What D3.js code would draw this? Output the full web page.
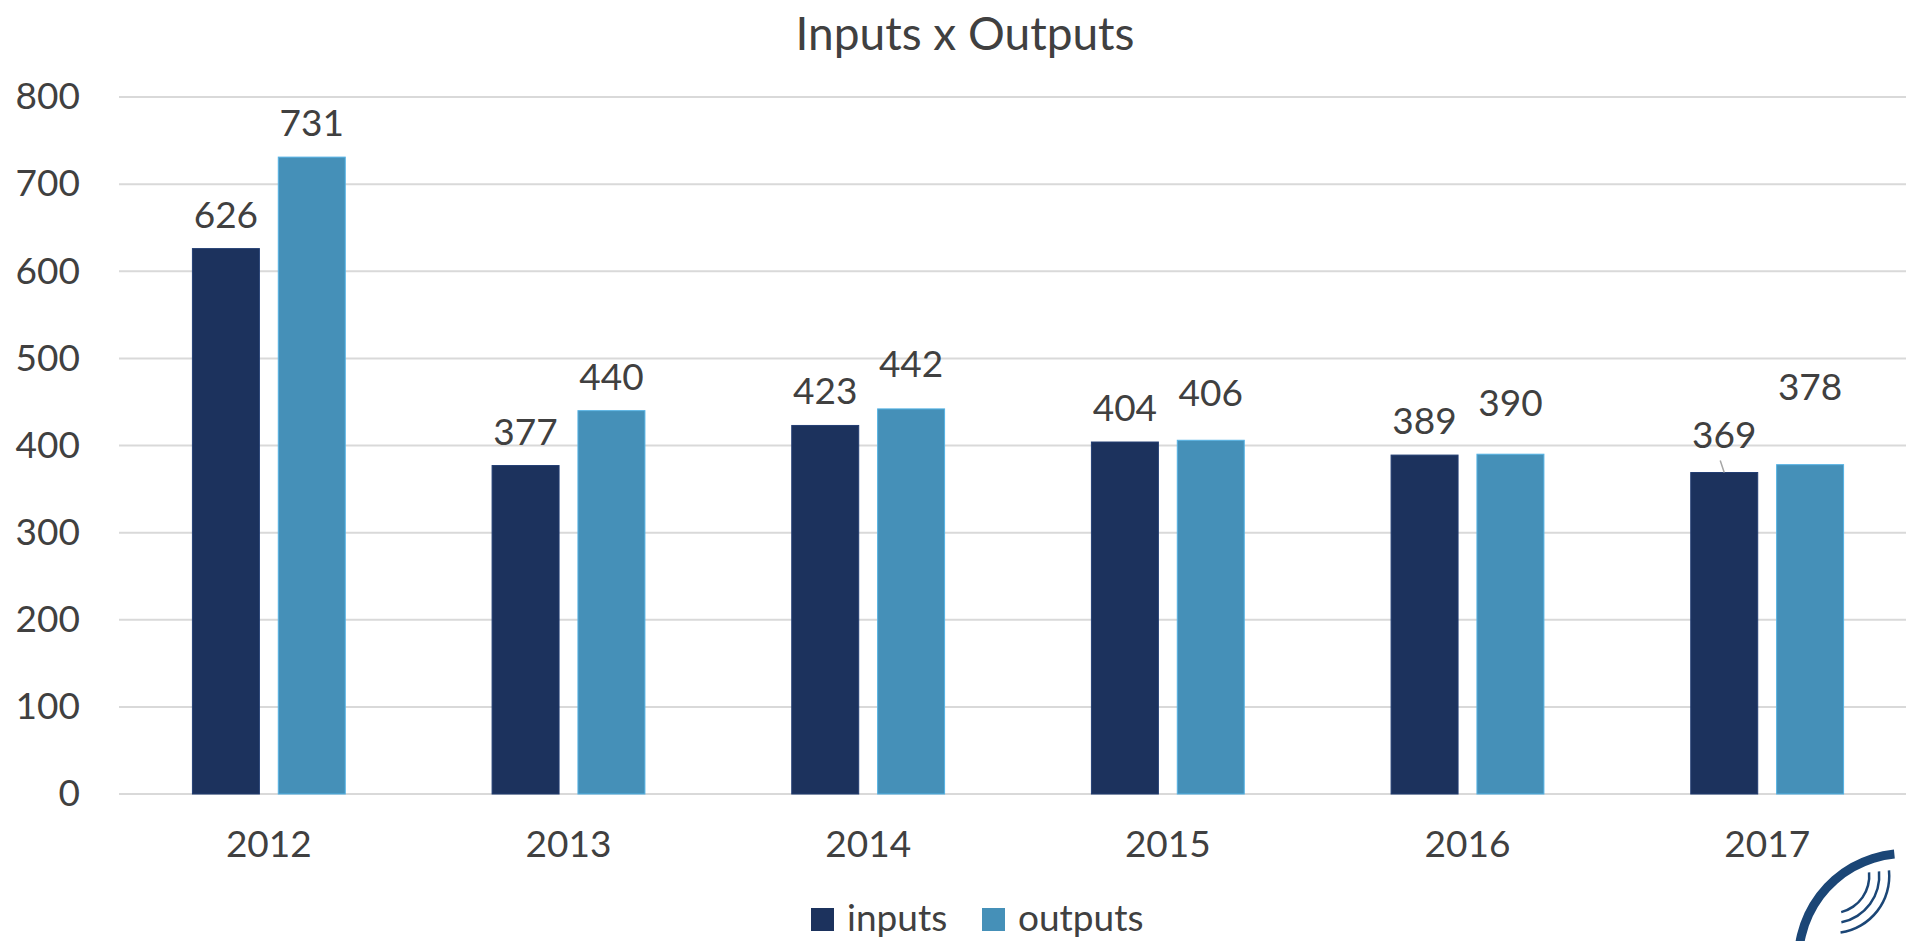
<!DOCTYPE html>
<html>
<head>
<meta charset="utf-8">
<script src="https://cdn.jsdelivr.net/npm/d3@7"></script>
<style>
  html, body { margin: 0; padding: 0; background: #fff; overflow: hidden; }
  svg { display: block; font-family: Lato, "Open Sans", sans-serif; }
</style>
</head>
<body>
<svg id="chart"></svg>
<script>
/* ---- data ---- */
const years = ['2012', '2013', '2014', '2015', '2016', '2017'];
const seriesNames = ['inputs', 'outputs'];
const inputs = [626, 377, 423, 404, 389, 369];
const outputs = [731, 440, 442, 406, 390, 378];
const yTicks = [0, 100, 200, 300, 400, 500, 600, 700, 800];
const title = 'Inputs x Outputs';

// labels that were dragged up by hand in the original
const labelLift = { inputs: [0, 0, 0, 0, 0, 4], outputs: [0, 0, 11, 13, 17, 44] };

/* ---- layout ---- */
const width = 1906, height = 941;
const plot = { left: 119, right: 1917, top: 97, bottom: 794 };
const colors = { inputs: '#1c325d', outputs: '#4590b8' };
const textColor = '#404040';

const svg = d3.select('#chart').attr('width', width).attr('height', height);

const x0 = d3.scaleBand()
  .domain(years)
  .range([plot.left, plot.right])
  .paddingInner(0.49)
  .paddingOuter(0.245);

const x1 = d3.scaleBand()
  .domain(seriesNames)
  .range([0, x0.bandwidth()])
  .paddingInner(0.22);

const y = d3.scaleLinear()
  .domain([0, 800])
  .range([plot.bottom, plot.top]);

// rows for bars
const rows = years.flatMap((yr, i) => [
  { year: yr, i, key: 'inputs', value: inputs[i] },
  { year: yr, i, key: 'outputs', value: outputs[i] }
]);

// title
svg.append('text')
  .attr('x', 965).attr('y', 50)
  .attr('text-anchor', 'middle')
  .attr('fill', textColor)
  .style('font-size', '46px')
  .text(title);

// grid
svg.append('g')
  .selectAll('line').data(yTicks).join('line')
  .attr('x1', plot.left).attr('x2', width)
  .attr('y1', d => y(d)).attr('y2', d => y(d))
  .attr('stroke', '#d9d9d9').attr('stroke-width', 2);

// y axis labels
const yAxis = svg.append('g')
  .attr('transform', `translate(${plot.left},0)`)
  .call(d3.axisLeft(y).tickValues(yTicks).tickSize(0).tickPadding(39));
yAxis.select('.domain').remove();
yAxis.selectAll('text')
  .attr('fill', textColor)
  .style('font-size', '37px')
  .style('font-family', 'Lato, "Open Sans", sans-serif');

// x axis labels
const xAxis = svg.append('g')
  .attr('transform', `translate(0,${plot.bottom})`)
  .call(d3.axisBottom(x0).tickSize(0).tickPadding(37));
xAxis.select('.domain').remove();
xAxis.selectAll('text')
  .attr('fill', textColor)
  .style('font-size', '37px')
  .style('font-family', 'Lato, "Open Sans", sans-serif');

// bars
svg.append('g')
  .selectAll('rect').data(rows).join('rect')
  .attr('x', d => x0(d.year) + x1(d.key))
  .attr('y', d => y(d.value))
  .attr('width', x1.bandwidth())
  .attr('height', d => y(0) - y(d.value))
  .attr('fill', d => colors[d.key])
  .attr('stroke', d => d3.color(colors[d.key]).brighter(0.6))
  .attr('stroke-width', 1);

// data labels
svg.append('g')
  .selectAll('text').data(rows).join('text')
  .attr('x', d => x0(d.year) + x1(d.key) + x1.bandwidth() / 2)
  .attr('y', d => y(d.value) - 21 - labelLift[d.key][d.i])
  .attr('text-anchor', 'middle')
  .attr('fill', textColor)
  .style('font-size', '37px')
  .text(d => d.value);

// leader line for the moved 369 label
const lead = rows.find(d => d.key === 'inputs' && d.year === '2017');
const lx = x0(lead.year) + x1(lead.key) + x1.bandwidth() / 2;
svg.append('line')
  .attr('x1', lx - 4).attr('y1', y(lead.value) - 12)
  .attr('x2', lx).attr('y2', y(lead.value))
  .attr('stroke', '#a6a6a6').attr('stroke-width', 1.5);

// legend
const legend = svg.append('g').attr('transform', 'translate(811,908)');
const legendX = { inputs: 0, outputs: 171 };
const li = legend.selectAll('g').data(seriesNames).join('g')
  .attr('transform', d => `translate(${legendX[d]},0)`);
li.append('rect')
  .attr('width', 23).attr('height', 23)
  .attr('fill', d => colors[d]);
li.append('text')
  .attr('x', 36).attr('y', 23)
  .attr('fill', textColor)
  .style('font-size', '37px')
  .text(d => d);

// logo fragment in the corner
const logo = svg.append('g').attr('fill', 'none').attr('stroke', '#1b4676');
logo.append('path')
  .attr('d', d3.arc()({ innerRadius: 102, outerRadius: 111, startAngle: -1.75, endAngle: -0.1 }))
  .attr('transform', 'translate(1905,960)')
  .attr('fill', '#1b4676').attr('stroke', 'none');
[36, 46, 56].forEach((r, k) => {
  logo.append('path')
    .attr('d', d3.arc()({ innerRadius: r, outerRadius: r + 2.5, startAngle: Math.PI / 2 - 0.1, endAngle: Math.PI - 0.25 + k * 0.05 }))
    .attr('transform', 'translate(1832,876)')
    .attr('fill', '#1b4676').attr('stroke', 'none');
});
</script>
</body>
</html>
